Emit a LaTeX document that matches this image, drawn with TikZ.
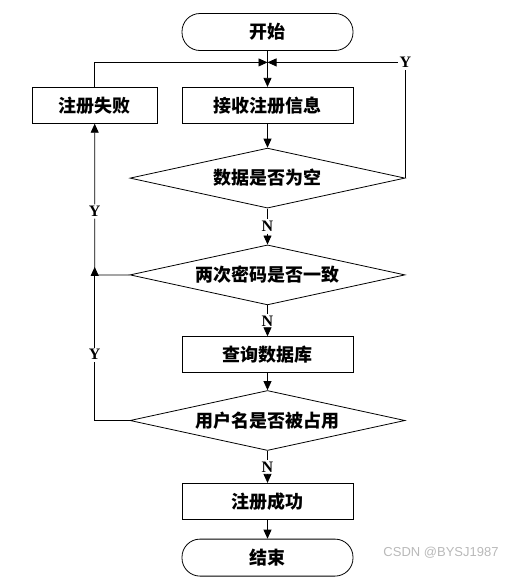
\documentclass[tikz,border=0pt]{standalone}
\usepackage{fontspec}
\newfontfamily\cjk{Noto Sans CJK SC}
\newfontfamily\yn{Liberation Serif}
\newfontfamily\wm{Liberation Sans}
\usetikzlibrary{positioning,shapes.geometric,arrows.meta,calc}

\begin{document}
\begin{tikzpicture}[
  >={Triangle[length=9pt,width=8pt]},
  line width=0.8pt,
  proc/.style={rectangle,draw,minimum width=171pt,minimum height=36pt,
               inner sep=0pt,font=\cjk\bfseries\fontsize{18}{20}\selectfont},
  term/.style={proc,rounded corners=18pt,minimum height=37pt},
  dec/.style={diamond,draw,aspect=4.58,minimum width=275pt,minimum height=60pt,
              inner sep=0pt,font=\cjk\bfseries\fontsize{18}{20}\selectfont},
  lab/.style={inner sep=1.5pt,font=\yn\bfseries\fontsize{16}{18}\selectfont}
]
  \useasboundingbox (0pt,0pt) rectangle (514pt,-581pt);

  \node[term] at (267.5pt,-32pt) (start) {开始};
  \node[proc, below=36pt of start] (recv)  {接收注册信息};
  \node[dec,  below=24pt of recv]  (empty) {数据是否为空};
  \node[dec,  below=36pt of empty] (pwd)   {两次密码是否一致};
  \node[proc, below=31pt of pwd]   (query) {查询数据库};
  \node[dec,  below=17pt of query] (used)  {用户名是否被占用};
  \node[proc, below=32pt of used]  (ok)    {注册成功};
  \node[term, below=19pt of ok]    (end)   {结束};
  \node[proc, left=24pt of recv, minimum width=125pt] (fail) {注册失败};

  \coordinate[below=11.5pt of start] (join);
  \coordinate (turn) at (fail.south |- pwd.west);
  \coordinate[above=8pt of turn] (turnup);

  \node[lab] (y1) at (empty.east |- join) {Y};
  \node[lab] (y2) at ($(fail.south)!0.58!(turn)$) {Y};
  \node[lab] (y3) at (fail.south |- query) {Y};
  \path (empty.south) -- node[lab] (n1) {N} (pwd.north);
  \path (pwd.south) -- node[lab] (n2) {N} (query.north);
  \path (used.south) -- node[lab] (n3) {N} (ok.north);

  \draw[->] (start) -- (recv);
  \draw[->] (recv) -- (empty);
  \draw (empty.east) -- (y1);
  \draw[->] (y1) -- (join);
  \draw[->] (fail.north) |- (join);
  \draw (empty.south) -- (n1);
  \draw[->] (n1) -- (pwd.north);
  \draw (pwd.south) -- (n2);
  \draw[->] (n2) -- (query.north);
  \draw[->] (query) -- (used);
  \draw (used.south) -- (n3);
  \draw[->] (n3) -- (ok.north);
  \draw[->] (ok) -- (end);
  \draw (pwd.west) -- (turn) -- (y2);
  \draw[->] (y2) -- (fail.south);
  \draw (used.west) -| (y3);
  \draw[->] (y3) -- (turnup);

  \node[text=gray!55, font=\wm\fontsize{13}{15}\selectfont] (mark)
    at (441pt,-553pt) {CSDN @BYSJ1987};
\end{tikzpicture}
\end{document}
